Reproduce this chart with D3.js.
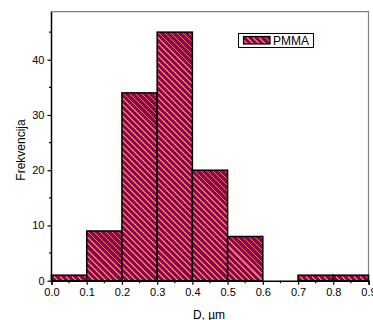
<!DOCTYPE html>
<html><head><meta charset="utf-8">
<script src="https://cdnjs.cloudflare.com/ajax/libs/d3/7.8.5/d3.min.js"></script>
<style>body{margin:0;background:#fff;}svg{display:block;font-family:"Liberation Sans",Arial,sans-serif;}</style>
</head><body>
<script>
const binStarts = [0.0, 0.1, 0.2, 0.3, 0.4, 0.5, 0.6, 0.7, 0.8];
const counts = [1, 9, 34, 45, 20, 8, 0, 1, 1];
const binWidth = 0.1;
const xTicks = [0.0, 0.1, 0.2, 0.3, 0.4, 0.5, 0.6, 0.7, 0.8, 0.9];
const yTicks = [0, 10, 20, 30, 40];
const seriesName = "PMMA";

const W = 373, H = 320;
const m = {left: 51.5, right: 4.5, top: 11.7, bottom: 39.3};
const svg = d3.select("body").append("svg").attr("width", W).attr("height", H);
const defs = svg.append("defs");

const x = d3.scaleLinear().domain([0, 0.9]).range([m.left, W - m.right]);
const y = d3.scaleLinear().domain([0, 48.7]).range([H - m.bottom, m.top]);

// hatched rectangle helper: purple fill + orange "\" diagonals, clipped
const SP = 6;
let clipN = 0;
function hatchRect(g, rx, ry, rw, rh, sw) {
  const id = "clip" + (clipN++);
  defs.append("clipPath").attr("id", id).append("rect")
    .attr("x", rx).attr("y", ry).attr("width", rw).attr("height", rh);
  g.append("rect").attr("x", rx).attr("y", ry).attr("width", rw).attr("height", rh).attr("fill", "#800080");
  const hg = g.append("g").attr("clip-path", `url(#${id})`);
  const k0 = Math.floor((rx - ry - rh) / SP) - 1, k1 = Math.ceil((rx + rw - ry) / SP) + 1;
  let d = "";
  for (let k = k0; k <= k1; k++) {
    const c = k * SP;
    d += `M${c + ry},${ry}L${c + ry + rh},${ry + rh}`;
  }
  hg.append("path").attr("d", d).attr("stroke", "#ff8000").attr("stroke-width", 1.4)
    .attr("fill", "none").attr("shape-rendering", "crispEdges");
  g.append("rect").attr("x", rx).attr("y", ry).attr("width", rw).attr("height", rh)
    .attr("fill", "none").attr("stroke", "#000").attr("stroke-width", sw);
}

// frame top/right
svg.append("path").attr("d", `M${x(0)},${y(48.7)}H${x(0.9)}V${y(0)}`)
  .attr("fill", "none").attr("stroke", "#808080").attr("stroke-width", 1.2);

// bars
const data = binStarts.map((s, i) => ({s, c: counts[i]}));
const barsG = svg.append("g");
barsG.selectAll("g").data(data.filter(d => d.c > 0)).join("g")
  .each(function(d) {
    hatchRect(d3.select(this), x(d.s), y(d.c), x(d.s + binWidth) - x(d.s), y(0) - y(d.c), 1.5);
  });

// x axis
const xAxis = d3.axisBottom(x).tickValues(xTicks).tickFormat(d3.format(".1f")).tickSize(4).tickPadding(4);
const gx = svg.append("g").attr("transform", `translate(0,${y(0)})`).call(xAxis);
gx.select(".domain").attr("stroke-width", 1.5);
gx.selectAll(".tick line").attr("stroke-width", 1.2);
gx.selectAll("text").attr("font-size", 11).attr("fill", "#000").attr("font-family", "Liberation Sans, Arial, sans-serif");
const xMinor = d3.range(0.05, 0.9, 0.1);
svg.append("g").selectAll("line").data(xMinor).join("line")
  .attr("x1", d => x(d)).attr("x2", d => x(d)).attr("y1", y(0)).attr("y2", y(0) + 2.5)
  .attr("stroke", "#000").attr("stroke-width", 1.2);

// y axis
const yAxis = d3.axisLeft(y).tickValues(yTicks).tickSize(4).tickPadding(3);
const gy = svg.append("g").attr("transform", `translate(${x(0)},0)`).call(yAxis);
gy.select(".domain").attr("stroke-width", 1.5).attr("d", `M0,${y(0)}V${y(48.7)}`);
gy.selectAll(".tick line").attr("stroke-width", 1.2);
gy.selectAll("text").attr("font-size", 11).attr("fill", "#000").attr("font-family", "Liberation Sans, Arial, sans-serif");
const yMinor = [5, 15, 25, 35, 45];
svg.append("g").selectAll("line").data(yMinor).join("line")
  .attr("x1", x(0)).attr("x2", x(0) - 2.5).attr("y1", d => y(d)).attr("y2", d => y(d))
  .attr("stroke", "#000").attr("stroke-width", 1.2);

// axis titles
svg.append("text").attr("x", 209).attr("y", 318.5).attr("text-anchor", "middle")
  .attr("font-size", 12).text("D, µm");
svg.append("text").attr("transform", `translate(24.5,150) rotate(-90)`).attr("text-anchor", "middle")
  .attr("font-size", 12).text("Frekvencija");

// legend
const lg = svg.append("g");
lg.append("rect").attr("x", 238.5).attr("y", 33.5).attr("width", 75).attr("height", 14)
  .attr("fill", "#fff").attr("stroke", "#000").attr("stroke-width", 1);
hatchRect(lg, 243.5, 36.5, 26.5, 7.5, 1.2);
lg.append("text").attr("x", 273).attr("y", 44.8).attr("font-size", 12).text(seriesName);
</script>
</body></html>
